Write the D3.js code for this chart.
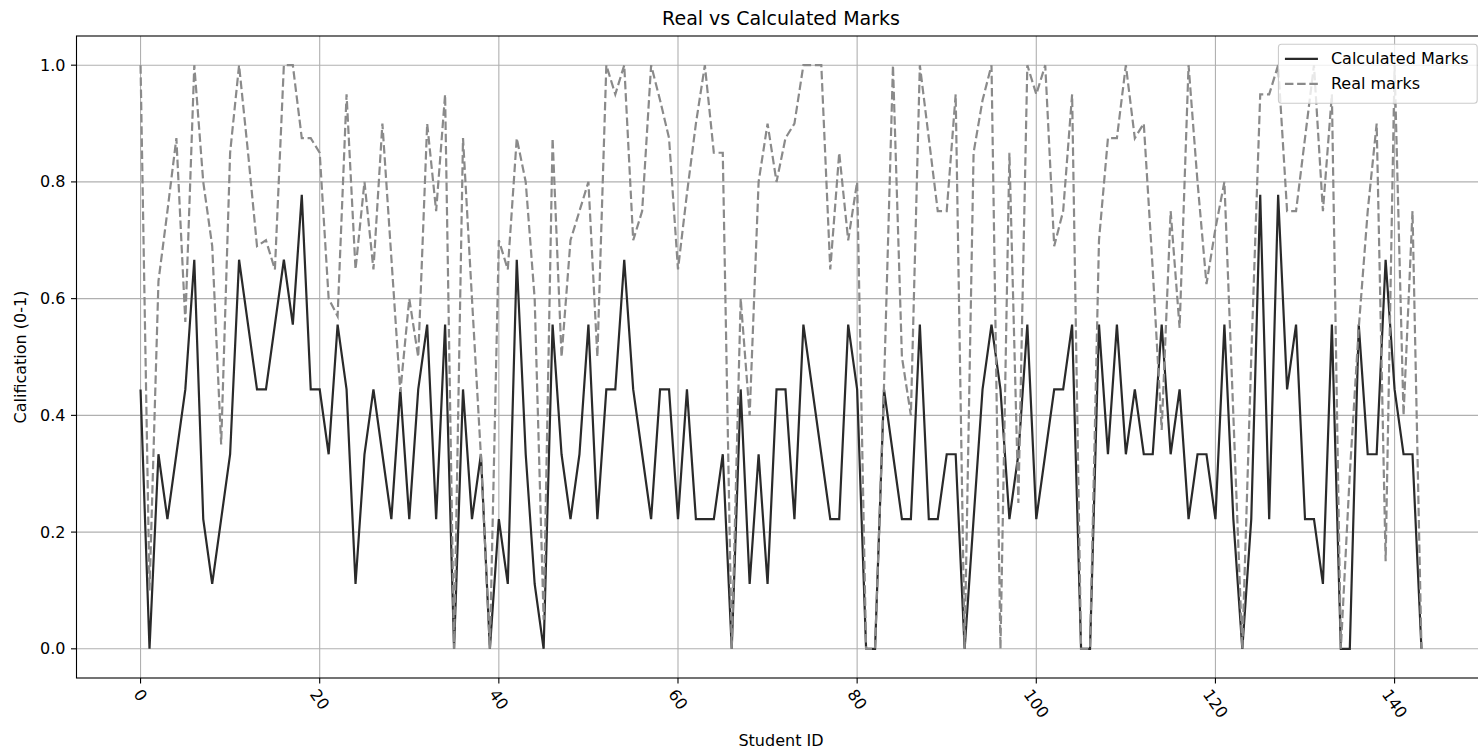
<!DOCTYPE html>
<html>
<head>
<meta charset="utf-8">
<script src="https://cdn.jsdelivr.net/npm/d3@7"></script>
<style>
  html, body { margin: 0; padding: 0; background: #ffffff; }
  svg { display: block; font-family: "DejaVu Sans", sans-serif; }
</style>
</head>
<body>
<svg id="chart" width="1478" height="752"></svg>
<script>
// ---- data ----
const studentIds = d3.range(0, 144);
// calculated marks (in ninths)
const calculatedNinths = [
  4,0,3,2,3,4,6,2,1,2, 3,6,5,4,4,5,6,5,7,4,
  4,3,5,4,1,3,4,3,2,4, 2,4,5,2,5,0,4,2,3,0,
  2,1,6,3,1,0,5,3,2,3, 5,2,4,4,6,4,3,2,4,4,
  2,4,2,2,2,3,0,4,1,3, 1,4,4,2,5,4,3,2,2,5,
  4,0,0,4,3,2,2,5,2,2, 3,3,0,2,4,5,4,2,3,5,
  2,3,4,4,5,0,0,5,3,5, 3,4,3,3,5,3,4,2,3,3,
  2,5,2,0,2,7,2,7,4,5, 2,2,1,5,0,0,5,3,3,6,
  4,3,3,0
];
const calculatedMarks = calculatedNinths.map(v => v / 9);
const realMarks = [
  1.0,0.1,0.63,0.75,0.875,0.56,1.0,0.8,0.69,0.35,
  0.85,1.0,0.85,0.69,0.70,0.65,1.0,1.0,0.875,0.875,
  0.85,0.6,0.57,0.95,0.65,0.8,0.65,0.9,0.67,0.44,
  0.6,0.5,0.9,0.75,0.95,0.0,0.875,0.6,0.33,0.0,
  0.7,0.65,0.875,0.8,0.6,0.05,0.875,0.5,0.7,0.75,
  0.8,0.5,1.0,0.95,1.0,0.7,0.75,1.0,0.94,0.875,
  0.65,0.78,0.9,1.0,0.85,0.85,0.0,0.6,0.4,0.8,
  0.9,0.8,0.875,0.9,1.0,1.0,1.0,0.65,0.85,0.7,
  0.8,0.0,0.0,0.45,1.0,0.5,0.4,1.0,0.875,0.75,
  0.75,0.95,0.0,0.85,0.94,1.0,0.0,0.85,0.25,1.0,
  0.95,1.0,0.69,0.75,0.95,0.0,0.0,0.7,0.875,0.875,
  1.0,0.875,0.9,0.65,0.375,0.75,0.55,1.0,0.8,0.625,
  0.72,0.8,0.4,0.0,0.5,0.95,0.95,1.0,0.75,0.75,
  0.875,1.0,0.75,0.95,0.0,0.3,0.55,0.75,0.9,0.15,
  1.0,0.4,0.75,0.0
];
const xTicks = [0, 20, 40, 60, 80, 100, 120, 140];
const yTicks = [0.0, 0.2, 0.4, 0.6, 0.8, 1.0];
const seriesNames = ["Calculated Marks", "Real marks"];
const titleText = "Real vs Calculated Marks";
const xLabelText = "Student ID";
const yLabelText = "Calification (0-1)";

// ---- layout ----
const svg = d3.select("#chart");
const L = 76.5, R = 1485.5, T = 36, B = 678;
const fs = 16;
const tickLen = 5.5, tickPad = 5.5;
const x = d3.scaleLinear().domain([-7.15, 150.15]).range([L, R]);
const y = d3.scaleLinear().domain([-0.05, 1.05]).range([B, T]);

svg.append("defs").append("clipPath").attr("id", "clip")
  .append("rect").attr("x", L).attr("y", T).attr("width", R - L).attr("height", B - T);

// grid
const grid = svg.append("g");
grid.selectAll(".gx").data(xTicks).join("line")
  .attr("x1", d => x(d)).attr("x2", d => x(d)).attr("y1", T).attr("y2", B)
  .attr("stroke", "#b0b0b0").attr("stroke-width", 1.1);
grid.selectAll(".gy").data(yTicks).join("line")
  .attr("x1", L).attr("x2", R).attr("y1", d => y(d)).attr("y2", d => y(d))
  .attr("stroke", "#b0b0b0").attr("stroke-width", 1.1);

// lines
const plot = svg.append("g").attr("clip-path", "url(#clip)");
const lineGen = d3.line().x((d, i) => x(studentIds[i])).y(d => y(d));
plot.append("path").datum(calculatedMarks).attr("d", lineGen)
  .attr("fill", "none").attr("stroke", "#2a2a2a").attr("stroke-width", 2.2)
  .attr("stroke-linejoin", "miter");
plot.append("path").datum(realMarks).attr("d", lineGen)
  .attr("fill", "none").attr("stroke", "#8a8a8a").attr("stroke-width", 2.2)
  .attr("stroke-dasharray", "8.5,3.7");

// spines
svg.append("rect").attr("x", L).attr("y", T).attr("width", R - L).attr("height", B - T)
  .attr("fill", "none").attr("stroke", "#000").attr("stroke-width", 1.1);

// x axis ticks
const xAxisG = svg.append("g");
xAxisG.selectAll("line").data(xTicks).join("line")
  .attr("x1", d => x(d)).attr("x2", d => x(d)).attr("y1", B).attr("y2", B + tickLen)
  .attr("stroke", "#000").attr("stroke-width", 1.1);
const rot = 55, th = rot * Math.PI / 180;
xAxisG.selectAll("text").data(xTicks).join("text")
  .attr("font-size", fs).attr("text-anchor", "middle").attr("dominant-baseline", "central")
  .attr("fill", "#000")
  .text(d => d)
  .each(function(d) {
    const w = this.getComputedTextLength();
    const h = fs * 0.8;
    const H = w * Math.sin(th) + h * Math.cos(th);
    const cy = B + tickLen + 4 + H / 2;
    d3.select(this).attr("transform", `translate(${x(d)},${cy}) rotate(${rot})`);
  });

// y axis ticks
const yAxisG = svg.append("g");
yAxisG.selectAll("line").data(yTicks).join("line")
  .attr("x1", L - tickLen).attr("x2", L).attr("y1", d => y(d)).attr("y2", d => y(d))
  .attr("stroke", "#000").attr("stroke-width", 1.1);
yAxisG.selectAll("text").data(yTicks).join("text")
  .attr("x", L - tickLen - tickPad).attr("y", d => y(d))
  .attr("font-size", fs).attr("text-anchor", "end").attr("dominant-baseline", "central")
  .attr("fill", "#000")
  .text(d => d.toFixed(1));

// labels
svg.append("text").attr("x", (L + R) / 2).attr("y", 18).attr("text-anchor", "middle")
  .attr("dominant-baseline", "central").attr("font-size", 19).text(titleText);
svg.append("text").attr("x", (L + R) / 2).attr("y", 740).attr("text-anchor", "middle")
  .attr("dominant-baseline", "central").attr("font-size", fs).text(xLabelText);
svg.append("text").attr("transform", `translate(20,${(T + B) / 2}) rotate(-90)`)
  .attr("text-anchor", "middle").attr("dominant-baseline", "central")
  .attr("font-size", fs).text(yLabelText);

// legend
const lg = svg.append("g");
const lgRight = R - 8.3, lgTop = T + 8.3;
const rowH = 25, pad = 6.5, handleLen = 33, handlePad = 13;
const tmp = lg.append("text").attr("font-size", fs).text(seriesNames[0]);
const tw = Math.max(tmp.node().getComputedTextLength(), 0);
tmp.remove();
const lgW = pad * 2 + handleLen + handlePad + tw + 2;
const lgH = pad * 2 + rowH * 2 - 4;
const lgLeft = lgRight - lgW;
lg.append("rect").attr("x", lgLeft).attr("y", lgTop).attr("width", lgW).attr("height", lgH)
  .attr("rx", 3).attr("fill", "#ffffff").attr("fill-opacity", 0.8)
  .attr("stroke", "#cccccc").attr("stroke-width", 1.1);
const styles = [
  {stroke: "#2a2a2a", dash: null},
  {stroke: "#8a8a8a", dash: "8.5,3.7"}
];
seriesNames.forEach((name, i) => {
  const cy = lgTop + pad + 8 + i * rowH;
  const l = lg.append("line").attr("x1", lgLeft + pad).attr("x2", lgLeft + pad + handleLen)
    .attr("y1", cy).attr("y2", cy).attr("stroke", styles[i].stroke).attr("stroke-width", 2.2);
  if (styles[i].dash) l.attr("stroke-dasharray", styles[i].dash);
  lg.append("text").attr("x", lgLeft + pad + handleLen + handlePad).attr("y", cy)
    .attr("dominant-baseline", "central").attr("font-size", fs).attr("fill", "#000").text(name);
});
</script>
</body>
</html>
